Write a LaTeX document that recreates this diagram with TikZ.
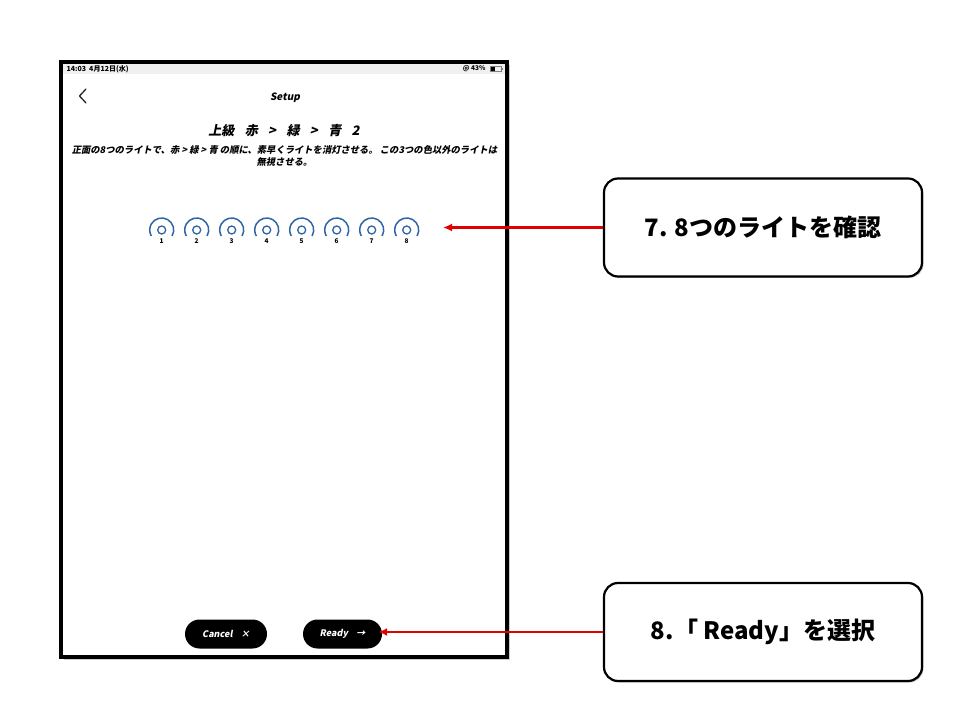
\documentclass[tikz,border=0pt]{standalone}
\usepackage{fontspec}
\setmainfont{Noto Sans CJK JP}
\newfontfamily\slantjp{Noto Sans CJK JP}[FakeSlant=0.2]
\usetikzlibrary{arrows.meta}
\usetikzlibrary{shadows}

\definecolor{lightblue}{HTML}{2F65A7}
\definecolor{pointred}{HTML}{E00000}

\tikzset{
  callout/.style={draw=black, line width=2.2pt, rounded corners=14pt, fill=white,
    minimum width=318pt, minimum height=98pt,
    font=\bfseries\fontsize{24}{28}\selectfont,
    drop shadow={shadow xshift=1.5pt, shadow yshift=-1.5pt, opacity=0.45}},
  pointer/.style={pointred, line width=2.2pt, -{Latex[length=9pt,width=8pt]}},
  pill/.style={fill=black, rounded corners=14.5pt, minimum height=29pt, text=white,
    font=\slantjp\bfseries\fontsize{9}{10}\selectfont},
  lamp/.style={lightblue, line width=1.5pt}
}

\begin{document}
\begin{tikzpicture}[x=1pt,y=1pt]
  \useasboundingbox (0,0) rectangle (960,720);

  \draw[line width=4pt, fill=white, drop shadow={shadow xshift=3pt, shadow yshift=-3pt, opacity=0.4}]
    (61,63.5) rectangle (507,658);
  \fill[gray!12] (63,646) rectangle (505,656);
  \node (clock) at (63,651) [anchor=west, font=\bfseries\fontsize{7}{8}\selectfont] {14:03\ \ 4月12日(水)};
  \node (battery) at (489,651) [anchor=east, font=\bfseries\fontsize{6.5}{7}\selectfont] {@ 43\%};
  \draw[line width=0.5pt, gray] (490,648.5) rectangle (501,653.5);
  \fill[black] (490.5,649) rectangle (495,653);
  \fill[gray] (501.5,650) rectangle (502.5,652);

  \draw[line width=1.3pt, gray!30!black, line cap=round, line join=round]
    (86,631) -- (79.5,624) -- (86,617);
  \node (setup) at (285,622) [font=\slantjp\bfseries\fontsize{10}{11}\selectfont] {Setup};
  \node (title) at (284,589) [font=\slantjp\bfseries\fontsize{13}{15}\selectfont]
    {上級\hspace{0.8em}赤\hspace{0.8em}>\hspace{0.8em}緑\hspace{0.8em}>\hspace{0.8em}青\hspace{0.8em}2};
  \node (line1) at (284.5,570) [font=\slantjp\bfseries\fontsize{9.3}{11}\selectfont]
    {正面の8つのライトで、赤 > 緑 > 青 の順に、素早くライトを消灯させる。 この3つの色以外のライトは};
  \node (line2) at (284.5,558) [font=\slantjp\bfseries\fontsize{9.3}{11}\selectfont] {無視させる。};

  \foreach \n in {1,...,8} {
    \coordinate (lamp\n) at ({161.7+35*(\n-1)},490);
    \draw[lamp] (lamp\n) ++(-30:12) arc[start angle=-30, end angle=210, radius=12];
    \draw[lamp, line width=1.3pt] (lamp\n) circle (4);
    \node (num\n) at ([yshift=-11]lamp\n) [font=\bfseries\fontsize{6.5}{7}\selectfont] {\n};
  }

  \node (cancel) at (226,86) [pill, minimum width=82pt] {Cancel\ \ \ \ ×};
  \node (ready) at (342.5,86) [pill, minimum width=79pt] {Ready\ \ \ \ →};

  \node (step7) at (763,492.5) [callout] {7. 8つのライトを確認};
  \node (step8) at (763,88) [callout] {8.「 Ready」を選択};

  \coordinate (lamptip) at (443,492.5);
  \draw[pointer] (step7.west) -- (lamptip);
  \draw[pointer] (step8.west) -- ([xshift=-4pt]ready.east |- step8.west);
\end{tikzpicture}
\end{document}
